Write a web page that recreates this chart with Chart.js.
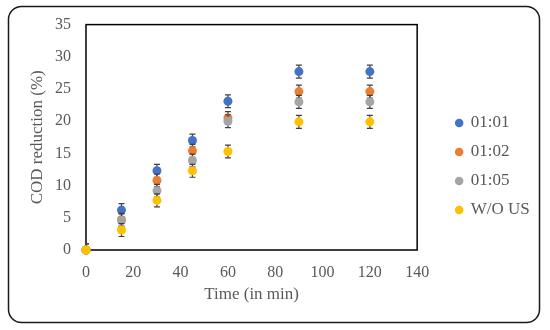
<!DOCTYPE html>
<html>
<head>
<meta charset="utf-8">
<script src="https://cdn.jsdelivr.net/npm/chart.js@4"></script>
<style>
    html, body { margin: 0; padding: 0; background: #ffffff; }
    #wrap { width: 550px; height: 330px; position: relative; }
</style>
</head>
<body>
<div id="wrap"><canvas id="chart-canvas" width="550" height="330"></canvas></div>
<script>
// Sampling times (min)
const times = [0, 15, 30, 45, 60, 90, 120];

// COD reduction (%) per ratio
const ratio11 = [0, 6.2, 12.3, 17.0, 23.1, 27.7, 27.7];
const ratio12 = [0, 4.7, 10.8, 15.4, 20.5, 24.6, 24.6];
const ratio15 = [0, 4.6, 9.2, 13.9, 20.0, 23.0, 23.0];
const withoutUS = [0, 3.1, 7.7, 12.3, 15.3, 19.9, 19.9];

// Error bar half-heights (%)
const err11 = [1, 1, 1, 1, 1, 1, 1];
const err12 = [1, 1, 1, 1, 1, 1, 1];
const err15 = [1, 1, 1, 1, 1, 1, 1];
const errWithoutUS = [1, 1, 1, 1, 1, 1, 1];

const seriesLabels = ['01:01', '01:02', '01:05', 'W/O US'];
const seriesColors = ['#4472C4', '#ED7D31', '#A5A5A5', '#FFC000'];

const xTicks = [0, 20, 40, 60, 80, 100, 120, 140];
const yTicks = [0, 5, 10, 15, 20, 25, 30, 35];

const tickColor = '#595959';
const fontFamily = '"Liberation Serif", "Times New Roman", serif';

function toPoints(values) {
    return times.map((t, i) => ({ x: t, y: values[i] }));
}

const allValues = [ratio11, ratio12, ratio15, withoutUS];
const allErrors = [err11, err12, err15, errWithoutUS];

// Later series are drawn on top (lower order = drawn last)
const datasets = allValues.map((vals, i) => ({
    label: seriesLabels[i],
    data: toPoints(vals),
    errors: allErrors[i],
    backgroundColor: seriesColors[i],
    borderColor: seriesColors[i],
    pointRadius: 4.5,
    pointHoverRadius: 4.5,
    pointBorderWidth: 0,
    clip: false,
    order: allValues.length - i
}));

// Draws vertical error bars with caps for each dataset
const errorBars = {
    id: 'errorBars',
    beforeDatasetDraw(chart, args) {
        const ds = chart.data.datasets[args.index];
        const meta = args.meta;
        const yScale = chart.scales.y;
        const area = chart.chartArea;
        const ctx = chart.ctx;
        ctx.save();
        ctx.beginPath();
        ctx.rect(area.left, area.top, area.right - area.left, area.bottom - area.top);
        ctx.clip();
        ctx.strokeStyle = '#404040';
        ctx.lineWidth = 1.2;
        meta.data.forEach((pt, i) => {
            const e = ds.errors[i];
            if (!e) return;
            const v = ds.data[i].y;
            const yHi = yScale.getPixelForValue(v + e);
            const yLo = yScale.getPixelForValue(v - e);
            const x = pt.x;
            ctx.beginPath();
            ctx.moveTo(x, yHi); ctx.lineTo(x, yLo);
            ctx.moveTo(x - 3, yHi); ctx.lineTo(x + 3, yHi);
            ctx.moveTo(x - 3, yLo); ctx.lineTo(x + 3, yLo);
            ctx.stroke();
        });
        ctx.restore();
    }
};

// Outer rounded frame around the whole chart
const frame = {
    id: 'frame',
    afterDraw(chart) {
        const ctx = chart.ctx;
        ctx.save();
        ctx.strokeStyle = '#1a1a1a';
        ctx.lineWidth = 1.5;
        ctx.beginPath();
        ctx.roundRect(8.5, 6.5, 531, 316, 13);
        ctx.stroke();
        ctx.restore();
    }
};

// Black box around the plot area
const plotBox = {
    id: 'plotBox',
    beforeDatasetsDraw(chart) {
        const a = chart.chartArea;
        const ctx = chart.ctx;
        ctx.save();
        ctx.strokeStyle = '#000000';
        ctx.lineWidth = 1.5;
        ctx.strokeRect(a.left, a.top, a.right - a.left, a.bottom - a.top);
        ctx.restore();
    }
};

const ctx = document.getElementById('chart-canvas');

new Chart(ctx, {
    type: 'scatter',
    data: { datasets: datasets },
    plugins: [errorBars, plotBox, frame],
    options: {
        responsive: false,
        animation: false,
        events: [],
        layout: {
            padding: { top: 23, bottom: 20, left: 0, right: 17 }
        },
        plugins: {
            tooltip: { enabled: false },
            legend: {
                display: true,
                position: 'right',
                align: 'center',
                labels: {
                    usePointStyle: true,
                    pointStyle: 'circle',
                    boxWidth: 6,
                    boxHeight: 6,
                    padding: 12,
                    color: tickColor,
                    font: { family: fontFamily, size: 17 },
                    sort: (a, b) => a.datasetIndex - b.datasetIndex
                }
            }
        },
        scales: {
            x: {
                type: 'linear',
                min: 0,
                max: 140,
                afterFit: (scale) => { scale.height = 60; },
                afterBuildTicks: (scale) => { scale.ticks = xTicks.map(v => ({ value: v })); },
                grid: { display: false, drawTicks: false },
                border: { display: false },
                ticks: {
                    color: tickColor,
                    padding: 13,
                    font: { family: fontFamily, size: 16 }
                },
                title: {
                    display: true,
                    text: 'Time (in min)',
                    color: tickColor,
                    padding: { top: 4, bottom: 5 },
                    font: { family: fontFamily, size: 17 }
                }
            },
            y: {
                type: 'linear',
                min: 0,
                max: 35,
                afterFit: (scale) => { scale.width = 86; },
                afterBuildTicks: (scale) => { scale.ticks = yTicks.map(v => ({ value: v })); },
                grid: { display: false, drawTicks: false },
                border: { display: false },
                ticks: {
                    color: tickColor,
                    padding: 15,
                    font: { family: fontFamily, size: 16 }
                },
                title: {
                    display: true,
                    text: 'COD reduction (%)',
                    color: tickColor,
                    padding: { top: 27, bottom: 0 },
                    font: { family: fontFamily, size: 17 }
                }
            },
            // Empty right-hand axis: only keeps the gap between plot and legend
            gap: {
                type: 'linear',
                position: 'right',
                afterFit: (scale) => { scale.width = 27; },
                grid: { display: false, drawTicks: false },
                border: { display: false },
                ticks: { display: false }
            }
        }
    }
});
</script>
</body>
</html>
